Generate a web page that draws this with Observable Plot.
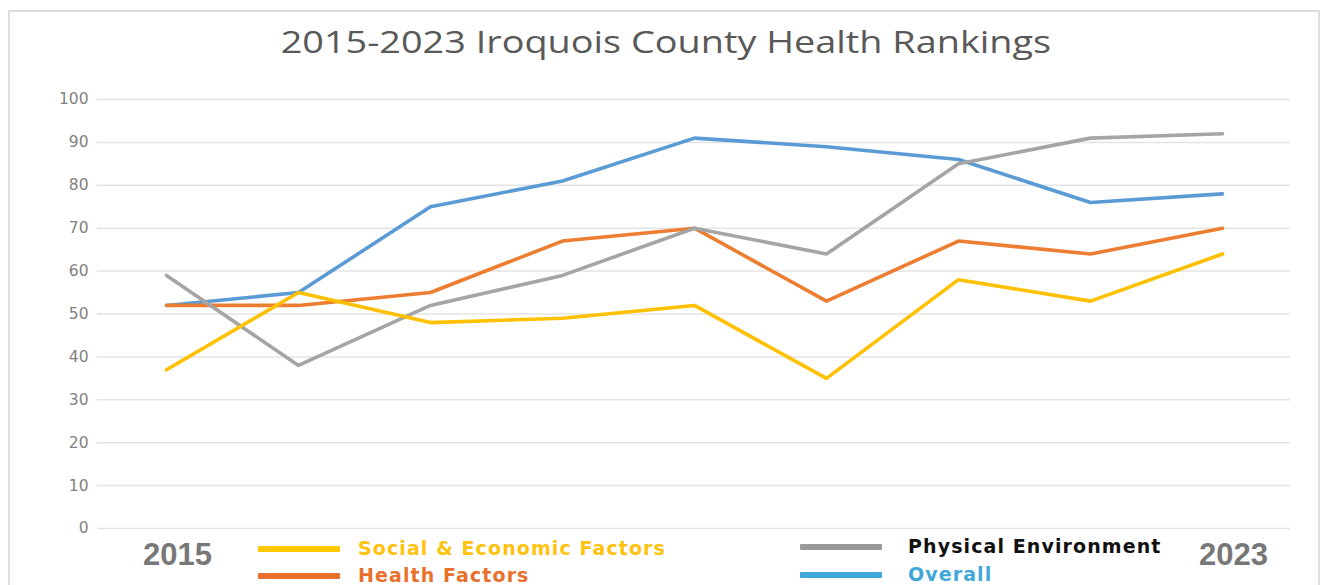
<!DOCTYPE html>
<html><head><meta charset="utf-8">
<script src="https://cdn.jsdelivr.net/npm/d3@7"></script>
<script src="https://cdn.jsdelivr.net/npm/@observablehq/plot@0.6"></script>
<style>
body{margin:0;background:#fff;width:1324px;height:585px;overflow:hidden;position:relative;font-family:"DejaVu Sans",sans-serif}
#frame{position:absolute;left:8px;top:10px;width:1312px;height:620px;border:2px solid #dedede;box-sizing:border-box}
#title{position:absolute;left:5px;width:1324px;top:20px;text-align:center;font-family:"Open Sans",sans-serif;font-size:31px;color:#595959;white-space:nowrap;transform:scaleX(1.22);transform-origin:667px 0}
#chart{position:absolute;left:0;top:0}
.sw{position:absolute;height:6px;border-radius:1px}
.lt{position:absolute;font-weight:bold;font-size:19px;letter-spacing:1.1px;font-family:"DejaVu Sans",sans-serif;white-space:nowrap;line-height:1}
</style></head><body>
<div id="frame"></div>
<div id="title">2015-2023 Iroquois County Health Rankings</div>
<div id="chart"></div>
<div id="legend"></div>
<script>
const years = ["2015","2016","2017","2018","2019","2020","2021","2022","2023"];
const socialEconomic = [37,55,48,49,52,35,58,53,64];
const healthFactors = [52,52,55,67,70,53,67,64,70];
const physicalEnvironment = [59,38,52,59,70,64,85,91,92];
const overall = [52,55,75,81,91,89,86,76,78];
const seriesNames = ["Social & Economic Factors","Health Factors","Physical Environment","Overall"];
const lineColors = ["#FFC000","#ED7D31","#A5A5A5","#5B9BD5"];
const legendTextColors = ["#FFC20E","#E8702A","#111111","#3FA7DA"];
const legendSwatchColors = ["#FFC800","#E8702A","#999999","#3FA7DA"];
const yTicks = d3.range(0, 101, 10);
const xTickLabels = ["2015","2023"];

const seriesValues = [socialEconomic, healthFactors, physicalEnvironment, overall];
const rows = seriesValues.map((vals, s) => years.map((y, i) => ({year: y, value: vals[i], series: seriesNames[s]})));
const drawOrder = [3, 1, 2, 0];

const chart = Plot.plot({
  width: 1324, height: 585,
  marginLeft: 97, marginRight: 34, marginTop: 99, marginBottom: 57,
  style: {fontFamily: "DejaVu Sans, sans-serif", background: "transparent"},
  x: {type: "point", domain: years, padding: 0.5},
  y: {domain: [0, 100]},
  color: {domain: seriesNames, range: lineColors},
  marks: [
    Plot.ruleY(yTicks, {stroke: "#e4e4e4", strokeWidth: 1.5}),
    Plot.axisY({ticks: yTicks, tickSize: 0, tickPadding: 9, label: null, fontSize: 15.5, fill: "#828282"}),
    Plot.axisX({ticks: xTickLabels, tickSize: 0, tickPadding: 14, label: null, fontSize: 31, fontWeight: "bold", dx: 11, fill: "#777777", fontFamily: "Liberation Sans, sans-serif"}),
    ...drawOrder.map(s => Plot.line(rows[s], {x: "year", y: "value", stroke: "series", strokeWidth: 3.6, strokeLinejoin: "round"}))
  ]
});
document.getElementById("chart").appendChild(chart);

const legendPos = [
  {sx: 258, tx: 358, y: 549},
  {sx: 258, tx: 358, y: 576},
  {sx: 800, tx: 908, y: 547},
  {sx: 800, tx: 908, y: 575}
];
const legend = document.getElementById("legend");
seriesNames.forEach((name, i) => {
  const p = legendPos[i];
  const sw = document.createElement("div");
  sw.className = "sw";
  sw.style.left = p.sx + "px"; sw.style.top = (p.y - 3) + "px";
  sw.style.width = "82px"; sw.style.background = legendSwatchColors[i];
  legend.appendChild(sw);
  const t = document.createElement("div");
  t.className = "lt";
  t.textContent = name;
  t.style.left = p.tx + "px"; t.style.top = (p.y - 10) + "px";
  t.style.color = legendTextColors[i];
  legend.appendChild(t);
});
</script>
</body></html>
